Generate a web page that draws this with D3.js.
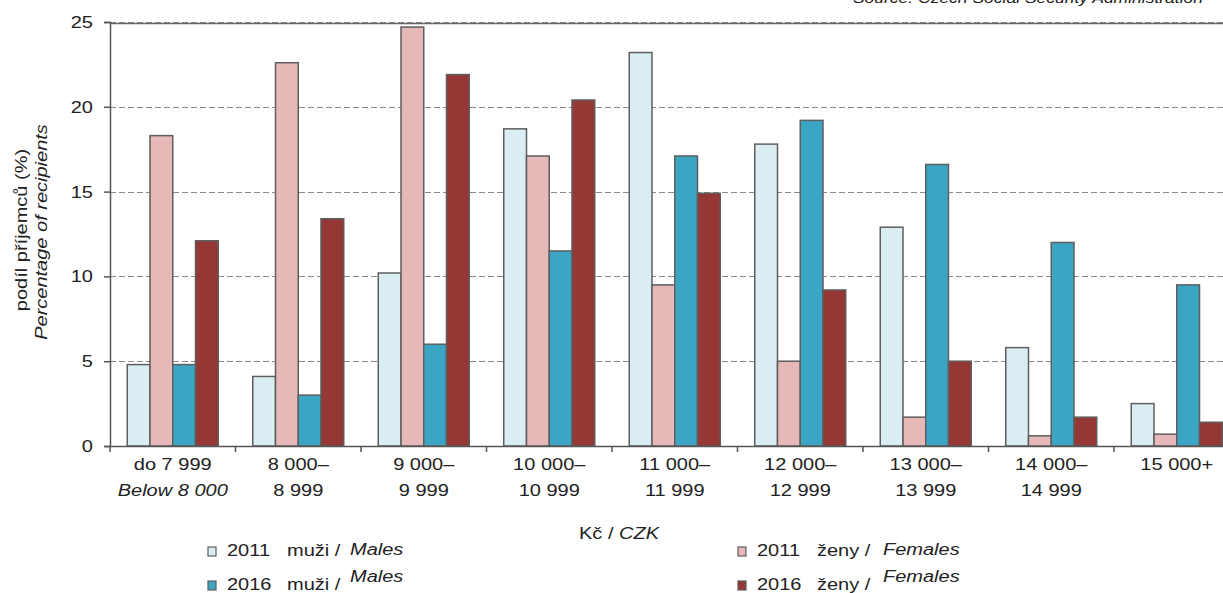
<!DOCTYPE html>
<html>
<head>
<meta charset="utf-8">
<script src="https://cdn.jsdelivr.net/npm/d3@7"></script>
<style>
  body { margin: 0; background: #fff; }
  svg { display: block; font-family: "Liberation Sans", Arial, sans-serif; }
</style>
</head>
<body>
<svg id="chart" width="1223" height="593"></svg>
<script>
/*
  Pension recipients by amount, 2011 vs 2016
*/

var categories = ["c1", "c2", "c3", "c4", "c5", "c6", "c7", "c8", "c9"],
    tickLine1 = ["do 7 999", "8 000–", "9 000–", "10 000–", "11 000–", "12 000–", "13 000–", "14 000–", "15 000+"],
    tickLine2 = ["Below 8 000", "8 999", "9 999", "10 999", "11 999", "12 999", "13 999", "14 999", ""],
    yTicks = [0, 5, 10, 15, 20, 25];

var males2011   = [4.8, 4.1, 10.2, 18.7, 23.2, 17.8, 12.9, 5.8, 2.5],
    females2011 = [18.3, 22.6, 24.7, 17.1, 9.5, 5.0, 1.7, 0.6, 0.7],
    males2016   = [4.8, 3.0, 6.0, 11.5, 17.1, 19.2, 16.6, 12.0, 9.5],
    females2016 = [12.1, 13.4, 21.9, 20.4, 14.9, 9.2, 5.0, 1.7, 1.4];

var seriesNames = ["m2011", "f2011", "m2016", "f2016"],
    seriesValues = [males2011, females2011, males2016, females2016],
    seriesColors = ["#daedf3", "#e6b9b8", "#3ba6c4", "#953735"],
    legendYear = ["2011", "2011", "2016", "2016"],
    legendCz = ["muži /", "ženy /", "muži /", "ženy /"],
    legendEn = ["Males", "Females", "Males", "Females"];

// text in the source is a bit wider than normal Arial
var SX = 1.25;

var plot = {left: 110, top: 22, bottom: 446, step: 125.5};

var svg = d3.select("#chart");

var x = d3.scaleBand()
      .domain(categories)
      .range([plot.left, plot.left + plot.step * categories.length])
      .paddingInner(0.275)
      .paddingOuter(0.1375),
    xSub = d3.scaleBand()
      .domain(seriesNames)
      .range([0, x.bandwidth()]),
    y = d3.scaleLinear()
      .domain([0, 25])
      .range([plot.bottom, plot.top]);

var right = plot.left + plot.step * categories.length;

function stretchText(g, tx, ty, rot) {
  return g.append("text")
    .attr("transform", "translate(" + tx + "," + ty + ")" + (rot ? " rotate(" + rot + ")" : "") + " scale(" + SX + ",1)");
}

// source line, mostly cut off at the top
stretchText(svg, 1203, 3).attr("text-anchor", "end")
  .style("font-size", "14px").style("font-style", "italic").attr("fill", "#222")
  .text("Source: Czech Social Security Administration");

// gridlines
svg.append("g").selectAll("line")
  .data(yTicks.filter(function(d) { return d > 0; }))
  .enter().append("line")
    .attr("x1", plot.left).attr("x2", right)
    .attr("y1", function(d) { return Math.round(y(d)) + 0.5; })
    .attr("y2", function(d) { return Math.round(y(d)) + 0.5; })
    .attr("stroke", "#8a8a8a")
    .attr("stroke-width", 1.2)
    .attr("stroke-dasharray", "6,3");

// top border of the plot
svg.append("line")
  .attr("x1", plot.left).attr("x2", right)
  .attr("y1", y(25) + 1.5).attr("y2", y(25) + 1.5)
  .attr("stroke", "#666").attr("stroke-width", 1.5);

// bars
var groups = svg.append("g").selectAll("g")
  .data(categories)
  .enter().append("g")
    .attr("transform", function(d) { return "translate(" + x(d) + ",0)"; });

groups.selectAll("rect")
  .data(function(d, i) {
    return seriesNames.map(function(s, j) { return {s: s, v: seriesValues[j][i], c: seriesColors[j]}; });
  })
  .enter().append("rect")
    .attr("x", function(d) { return xSub(d.s); })
    .attr("width", xSub.bandwidth())
    .attr("y", function(d) { return y(d.v); })
    .attr("height", function(d) { return y(0) - y(d.v); })
    .attr("fill", function(d) { return d.c; })
    .attr("stroke", "#5e5e5e")
    .attr("stroke-width", 1.5);

// y axis
var yAxis = svg.append("g")
  .attr("transform", "translate(" + plot.left + ",0)")
  .call(d3.axisLeft(y).tickValues(yTicks).tickSize(6).tickFormat(""));
yAxis.select(".domain").attr("stroke", "#555").attr("stroke-width", 1.5);
yAxis.selectAll(".tick line").attr("stroke", "#555").attr("stroke-width", 1.5);

svg.append("g").selectAll("text")
  .data(yTicks)
  .enter().each(function(d) {
    stretchText(d3.select(this), 93, y(d) + 6)
      .attr("text-anchor", "end")
      .style("font-size", "16px").attr("fill", "#222")
      .text(d);
  });

// x axis
var xAxis = svg.append("g")
  .attr("transform", "translate(0," + plot.bottom + ")")
  .call(d3.axisBottom(x).tickSize(0).tickFormat(""));
xAxis.select(".domain").attr("stroke", "#555").attr("stroke-width", 1.5);

svg.append("g").selectAll("line")
  .data(categories)
  .enter().append("line")
    .attr("x1", function(d) { return x(d) - x.step() * 0.1375; })
    .attr("x2", function(d) { return x(d) - x.step() * 0.1375; })
    .attr("y1", plot.bottom).attr("y2", plot.bottom + 6)
    .attr("stroke", "#555").attr("stroke-width", 1.5);

var tickLabels = svg.append("g");
categories.forEach(function(c, i) {
  var cx = x(c) + x.bandwidth() / 2;
  stretchText(tickLabels, cx, 470).attr("text-anchor", "middle")
    .style("font-size", "16px").attr("fill", "#222").text(tickLine1[i]);
  stretchText(tickLabels, cx, 496).attr("text-anchor", "middle")
    .style("font-size", "16px").attr("fill", "#222")
    .style("font-style", i === 0 ? "italic" : "normal")
    .text(tickLine2[i]);
});

// axis titles
var xt = stretchText(svg, 619, 539).attr("text-anchor", "middle")
  .style("font-size", "16px").attr("fill", "#222");
xt.append("tspan").text("Kč / ");
xt.append("tspan").style("font-style", "italic").text("CZK");

stretchText(svg, 27, 230, -90).attr("text-anchor", "middle")
  .style("font-size", "16px").attr("fill", "#222")
  .text("podíl příjemců (%)");
stretchText(svg, 47, 232, -90).attr("text-anchor", "middle")
  .style("font-size", "16px").style("font-style", "italic").attr("fill", "#222")
  .text("Percentage of recipients");

// legend
var legendPos = [[208, 556, 0], [738, 556, 0], [208, 590, 1], [738, 590, 1]];
var legend = svg.append("g");
seriesNames.forEach(function(s, i) {
  var p = legendPos[i],
      g = legend.append("g").attr("transform", "translate(" + p[0] + "," + p[1] + ")");
  g.append("rect")
    .attr("x", 0).attr("y", -9).attr("width", 8).attr("height", 9)
    .attr("fill", seriesColors[i]).attr("stroke", "#5e5e5e").attr("stroke-width", 1.2);
  stretchText(g, 19, 0).style("font-size", "16px").attr("fill", "#222").text(legendYear[i]);
  stretchText(g, p[0] === 208 ? 79 : 79, 0).style("font-size", "16px").attr("fill", "#222").text(legendCz[i]);
  stretchText(g, i % 2 === 0 ? 142 : 145, p[2] ? -8 : -1).style("font-size", "16px")
    .style("font-style", "italic").attr("fill", "#222").text(legendEn[i]);
});
</script>
</body>
</html>
